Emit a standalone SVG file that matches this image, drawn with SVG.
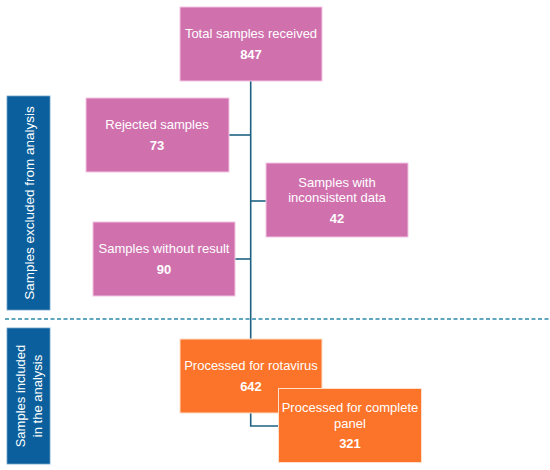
<svg xmlns="http://www.w3.org/2000/svg" width="550" height="470" viewBox="0 0 550 470">
<style>
.pink{fill:#d071ae;stroke:#f3c6e2;stroke-width:1}
.orange{fill:#fb7429;stroke:#fde0cc;stroke-width:1}
.band{fill:#0a5f9c;stroke:#6fa3c8;stroke-width:0.8}
text{font-family:"Liberation Sans",Arial,sans-serif;fill:#ffffff;text-anchor:middle}
.lab{font-size:13px}
.num{font-size:13px;font-weight:bold}
.side{font-size:13.5px}
.side2{font-size:13px}
.conn{fill:none;stroke:#1e6283;stroke-width:1.6}
</style>
<rect width="550" height="470" fill="#ffffff"/>
<g id="band-excluded">
<rect class="band" x="7" y="96" width="43" height="214"/>
<text class="side" transform="translate(33.5,203) rotate(-90)">Samples excluded from analysis</text>
</g>
<g id="band-included">
<rect class="band" x="7" y="328" width="43" height="136"/>
<text class="side2" transform="translate(25,396) rotate(-90)">Samples  included</text>
<text class="side2" transform="translate(42,396) rotate(-90)">in the analysis</text>
</g>
<line x1="5" y1="319" x2="550" y2="319" stroke="#2a8bab" stroke-width="1.6" stroke-dasharray="4,2.5"/>
<g id="connectors">
<path class="conn" d="M250.7,81 V339"/>
<path class="conn" d="M229,135 H250.7"/>
<path class="conn" d="M250.7,201 H266"/>
<path class="conn" d="M235,259 H250.7"/>
<path class="conn" d="M250.7,413 V426 H278"/>
</g>
<g id="total">
<rect class="pink" x="180" y="7" width="142" height="74"/>
<text class="lab" x="251" y="37.5">Total samples received</text>
<text class="num" x="251" y="59">847</text>
</g>
<g id="rejected">
<rect class="pink" x="86" y="98" width="143" height="74"/>
<text class="lab" x="157" y="128.5">Rejected samples</text>
<text class="num" x="157" y="150">73</text>
</g>
<g id="inconsistent">
<rect class="pink" x="266" y="163" width="142" height="74"/>
<text class="lab" x="337" y="186.5">Samples with</text>
<text class="lab" x="337" y="201.5">inconsistent data</text>
<text class="num" x="337" y="223">42</text>
</g>
<g id="without">
<rect class="pink" x="93" y="222" width="142" height="74"/>
<text class="lab" x="164" y="252.5">Samples without result</text>
<text class="num" x="164" y="274">90</text>
</g>
<g id="rotavirus">
<rect class="orange" x="180" y="339" width="142" height="74"/>
<text class="lab" x="251" y="369.5">Processed for rotavirus</text>
<text class="num" x="251" y="391">642</text>
</g>
<g id="panel">
<rect class="orange" x="278.5" y="388.5" width="143" height="74"/>
<text class="lab" x="350" y="411.5">Processed for complete</text>
<text class="lab" x="350" y="427.5">panel</text>
<text class="num" x="350" y="448">321</text>
</g>
</svg>
